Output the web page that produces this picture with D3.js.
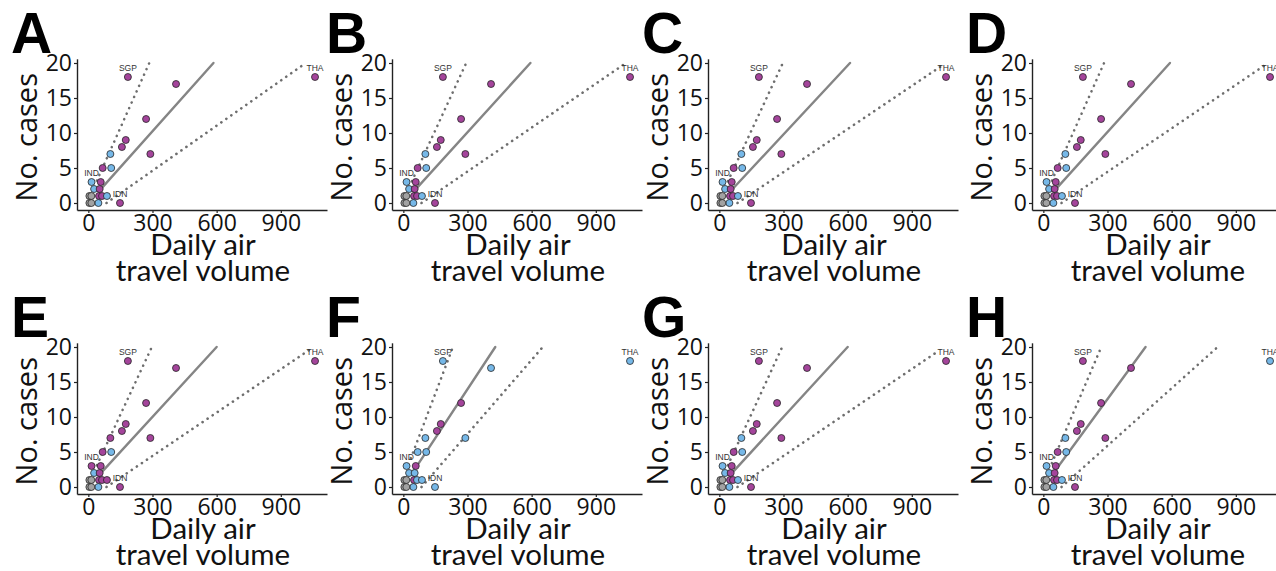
<!DOCTYPE html>
<html>
<head>
<meta charset="utf-8">
<script src="https://cdn.jsdelivr.net/npm/d3@7"></script>
<style>
  body { margin: 0; background: #fff; }
  svg { display: block; }
</style>
</head>
<body>
<div id="chart"></div>
<script>
// Data (same countries in every panel, colours change)
const travelVolume = [185, 410, 1060, 270, 175, 157, 290, 103, 107, 67, 15, 58, 27, 53, 50, 64, 87, 5, 14, 47, 148, 5, 14]
const cases = [18, 17, 18, 12, 9, 8, 7, 7, 5, 5, 3, 3, 2, 2, 1, 1, 1, 1, 1, 0, 0, 0, 0]
const pointLabels = ['SGP', '', 'THA', '', '', '', '', '', '', '', 'IND', '', '', '', '', '', '', '', '', '', 'IDN', '', '']

const panelNames = ['A', 'B', 'C', 'D', 'E', 'F', 'G', 'H']
// M = magenta, B = blue, G = grey
const panelGroups = [
    'MMMMMMMBBMBMBMMMBGGBMGG',
    'MMMMMMMBBMBMBMMMBGGBMGG',
    'MMMMMMMBBMBMBMMMBGGBMGG',
    'MMMMMMMBBMBMBMMMBGGBMGG',
    'MMMMMMMMBMMMBMMMMGGBMGG',
    'BBBMMMBBBBBMBBMBBGGBBGG',
    'MMMMMMMBBMBMBMMMBGGBMGG',
    'MMBMMMMBBMBMBMMMBGGBMGG'
]
// [x0, y0, x1, y1] in data units
const fitLines = [
    [50, 1.7, 585, 20], [50, 1.7, 594, 20], [50, 1.6, 611, 20], [50, 1.7, 592, 20],
    [50, 1.7, 600, 20], [40, 1.9, 430, 20], [50, 1.7, 600, 20], [45, 1.9, 478, 20]
]
const upperLines = [
    [40, 3.2, 285, 20], [40, 3.1, 294, 20], [40, 3.1, 297, 20], [40, 3.2, 284, 20],
    [40, 3.1, 297, 20], [35, 4.1, 232, 20], [40, 3.1, 294, 20], [40, 3.4, 271, 20]
]
const lowerLines = [
    [85, 0, 1017, 20], [85, 0, 1041, 20], [85, 0, 1040, 19.6], [85, 0, 1051, 20],
    [85, 0, 1044, 19.8], [85, 0, 652, 20], [85, 0, 1028, 19.5], [85, 0, 815, 20]
]
const xTicks = [0, 300, 600, 900]
const yTicks = [0, 5, 10, 15, 20]

const width = 1276
const height = 571
const colAxisX = [77, 392, 708, 1032]
const rowBottom = [210, 494]
const plotW = 250
const plotH = 151.2
const colors = { M: '#a4449b', B: '#76b8e8', G: '#a2a2a2' }
const font = "'Open Sans', sans-serif"

const svg = d3.select('#chart')
    .append('svg')
    .attr('width', width)
    .attr('height', height)

svg.append('rect').attr('width', width).attr('height', height).attr('fill', '#fff')

panelNames.forEach((name, p) => {
    const ax = colAxisX[p % 4]
    const bottom = rowBottom[Math.floor(p / 4)]

    const xScale = d3.scaleLinear().domain([-53, 1116]).range([ax, ax + plotW])
    const yScale = d3.scaleLinear().domain([-1, 20.6]).range([bottom, bottom - plotH])

    const g = svg.append('g')

    // lines
    const drawLine = (l, dotted) => {
        g.append('line')
            .attr('x1', xScale(l[0])).attr('y1', yScale(l[1]))
            .attr('x2', xScale(l[2])).attr('y2', yScale(l[3]))
            .attr('stroke', dotted ? '#6e6e6e' : '#858585')
            .attr('stroke-width', dotted ? 2.6 : 2.4)
            .attr('stroke-linecap', 'round')
            .attr('stroke-dasharray', dotted ? '0.1,6' : null)
    }
    drawLine(upperLines[p], true)
    drawLine(lowerLines[p], true)
    drawLine(fitLines[p], false)

    // points
    const groups = panelGroups[p].split('')
    const pts = travelVolume.map((v, i) => ({ x: v, y: cases[i], grp: groups[i], label: pointLabels[i] }))
    g.selectAll('circle.pt')
        .data(pts)
        .enter()
        .append('circle')
        .attr('class', 'pt')
        .attr('cx', d => xScale(d.x))
        .attr('cy', d => yScale(d.y))
        .attr('r', 3.5)
        .attr('fill', d => colors[d.grp])
        .attr('stroke', '#262626')
        .attr('stroke-width', 0.8)

    g.selectAll('text.lab')
        .data(pts.filter(d => d.label))
        .enter()
        .append('text')
        .attr('class', 'lab')
        .attr('x', d => xScale(d.x))
        .attr('y', d => yScale(d.y) - 6.3)
        .attr('text-anchor', 'middle')
        .attr('font-family', "'Liberation Sans', Arial, sans-serif")
        .attr('font-size', 8.5)
        .attr('fill', '#333')
        .text(d => d.label)

    // axes
    const yAxis = d3.axisLeft(yScale).tickValues(yTicks).tickSize(3).tickSizeOuter(0).tickPadding(2)
    const xAxis = d3.axisBottom(xScale).tickValues(xTicks).tickSize(3).tickSizeOuter(0).tickPadding(2)

    const ya = g.append('g')
        .attr('transform', 'translate(' + ax + ',0)')
        .call(yAxis)
    const xa = g.append('g')
        .attr('transform', 'translate(0,' + bottom + ')')
        .call(xAxis)
    ;[ya, xa].forEach(a => {
        a.select('.domain').attr('stroke', '#222').attr('stroke-width', 1.4)
        a.selectAll('.tick line').attr('stroke', '#222').attr('stroke-width', 1.2)
        a.selectAll('.tick text')
            .attr('font-family', font)
            .attr('font-size', 23)
            .attr('fill', '#111')
    })

    // titles
    g.append('text')
        .attr('transform', 'translate(' + (ax - 40) + ',' + (yScale(9.4)) + ') rotate(-90)')
        .attr('text-anchor', 'middle')
        .attr('font-family', font)
        .attr('font-size', 29)
        .attr('fill', '#111')
        .text('No. cases')

    // two-line x title as one text element
    const xt = g.append('text')
        .attr('text-anchor', 'middle')
        .attr('font-family', "Lato, 'Open Sans', sans-serif")
        .attr('font-size', 29.5)
        .attr('fill', '#111')
    xt.append('tspan')
        .attr('x', ax + 126)
        .attr('y', bottom + 45)
        .text('Daily air')
    xt.append('tspan')
        .attr('x', ax + 126)
        .attr('y', bottom + 71)
        .text('travel volume')

    // panel letter
    g.append('text')
        .attr('x', ax - 66)
        .attr('y', bottom - 157)
        .attr('font-family', "'Liberation Sans', Arial, sans-serif")
        .attr('font-weight', 700)
        .attr('font-size', 57)
        .attr('fill', '#000')
        .text(name)
})
</script>
</body>
</html>
